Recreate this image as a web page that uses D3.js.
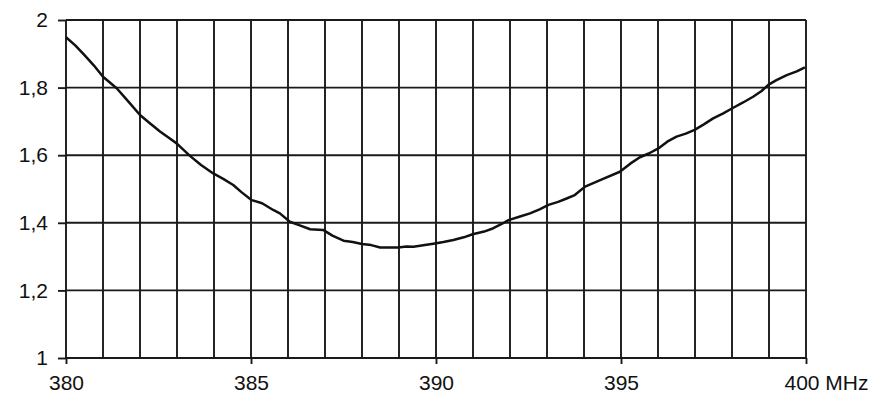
<!DOCTYPE html>
<html>
<head>
<meta charset="utf-8">
<script src="https://cdn.jsdelivr.net/npm/d3@7"></script>
<style>
html,body{margin:0;padding:0;background:#fff;}
svg{display:block;}
text{font-family:"Liberation Sans",Arial,sans-serif;}
</style>
</head>
<body>
<svg id="chart" width="887" height="407"></svg>
<script>
const freq = [380.0,380.25,380.5,380.75,381.0,381.37,381.7,382.0,382.25,382.54,382.75,382.99,383.35,383.65,383.98,384.25,384.52,384.75,385.02,385.3,385.6,385.78,386.05,386.3,386.6,386.95,387.2,387.5,387.75,388.0,388.25,388.49,388.75,388.98,389.2,389.39,389.7,389.97,390.2,390.47,390.75,390.99,391.3,391.55,391.75,391.96,392.25,392.54,392.8,393.04,393.3,393.53,393.75,394.03,394.5,394.97,395.25,395.51,395.75,396.01,396.25,396.5,396.75,396.99,397.25,397.49,397.75,398.01,398.3,398.57,398.8,398.98,399.2,399.48,399.75,399.97];
const vswr = [1.949,1.925,1.896,1.866,1.832,1.798,1.757,1.719,1.696,1.670,1.654,1.635,1.598,1.571,1.546,1.530,1.512,1.490,1.467,1.458,1.438,1.428,1.403,1.393,1.381,1.379,1.362,1.347,1.343,1.337,1.334,1.327,1.327,1.327,1.330,1.329,1.334,1.339,1.343,1.349,1.357,1.366,1.374,1.384,1.395,1.408,1.418,1.428,1.440,1.453,1.462,1.472,1.482,1.507,1.529,1.551,1.575,1.594,1.605,1.620,1.640,1.655,1.664,1.675,1.692,1.709,1.723,1.739,1.756,1.773,1.790,1.808,1.822,1.837,1.848,1.860];
const xTickValues = [380,385,390,395,400];
const xTickLabels = ["380","385","390","395","400 MHz"];
const xGridValues = d3.range(380,401,1);
const yTickValues = [1,1.2,1.4,1.6,1.8,2];
const yTickLabels = ["1","1,2","1,4","1,6","1,8","2"];

const m = {left:66, right:81, top:20, bottom:49};
const W = 887, H = 407;
const svg = d3.select("#chart");
const x = d3.scaleLinear().domain([380,400]).range([m.left, W-m.right]);
const y = d3.scaleLinear().domain([1,2]).range([H-m.bottom, m.top]);
const gridColor = "#1a1a1a";
const gridW = 1.9;

// vertical grid
svg.append("g").selectAll("line").data(xGridValues).join("line")
  .attr("x1",d=>x(d)).attr("x2",d=>x(d))
  .attr("y1",y(2)).attr("y2",y(1))
  .attr("stroke",gridColor).attr("stroke-width",gridW);
// horizontal grid
svg.append("g").selectAll("line").data(yTickValues).join("line")
  .attr("x1",x(380)).attr("x2",x(400))
  .attr("y1",d=>y(d)).attr("y2",d=>y(d))
  .attr("stroke",gridColor).attr("stroke-width",gridW);

// y axis
const yAxis = d3.axisLeft(y).tickValues(yTickValues)
  .tickFormat((d,i)=>yTickLabels[i]).tickSize(8).tickPadding(10);
const gy = svg.append("g").attr("transform",`translate(${m.left},0)`).call(yAxis);
gy.select(".domain").remove();
gy.selectAll(".tick line").attr("stroke",gridColor).attr("stroke-width",gridW);
gy.selectAll(".tick text").attr("font-size",21).attr("fill","#111")
  .attr("font-family","'Liberation Sans',Arial,sans-serif");

// x axis
const xAxis = d3.axisBottom(x).tickValues(xTickValues)
  .tickFormat((d,i)=>xTickLabels[i]).tickSize(6).tickPadding(11);
const gx = svg.append("g").attr("transform",`translate(0,${H-m.bottom})`).call(xAxis);
gx.select(".domain").remove();
gx.selectAll(".tick line").attr("stroke",gridColor).attr("stroke-width",gridW);
gx.selectAll(".tick text").attr("font-size",21).attr("fill","#111")
  .attr("font-family","'Liberation Sans',Arial,sans-serif");
gx.selectAll(".tick text").filter((d,i)=>i===xTickLabels.length-1)
  .attr("text-anchor","start").attr("dx",-22);

// curve
const pts = freq.map((f,i)=>[f,vswr[i]]);
svg.append("path").datum(pts)
  .attr("fill","none").attr("stroke","#111").attr("stroke-width",2.5)
  .attr("stroke-linejoin","round")
  .attr("d",d3.line().x(d=>x(d[0])).y(d=>y(d[1])));
</script>
</body>
</html>
